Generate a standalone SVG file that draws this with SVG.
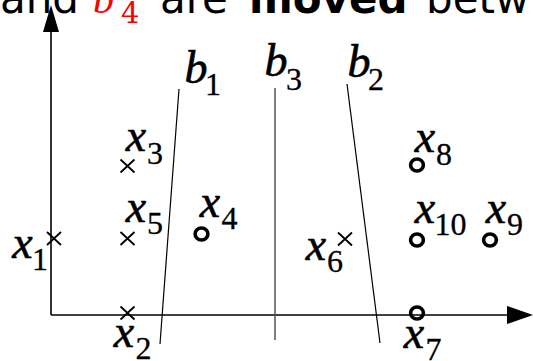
<svg xmlns="http://www.w3.org/2000/svg" width="533" height="361" viewBox="0 0 533 361">
<style>
  .title { font-family: "DejaVu Sans", sans-serif; font-size: 42px; fill: #000; }
  .bold { font-weight: bold; }
  .mi { font-family: "Liberation Serif", "Times New Roman", serif; font-style: italic; font-size: 46px; fill: #000; stroke: #000; stroke-width: 0.6; text-anchor: middle; }
  .sub { font-family: "Liberation Serif", "Times New Roman", serif; font-size: 32px; fill: #000; stroke: #000; stroke-width: 0.3; text-anchor: middle; }
  .axis { stroke: #000; stroke-width: 1.6; fill: none; }
  .bound { stroke: #000; stroke-width: 1.2; fill: none; }
  .mark { stroke: #000; stroke-width: 1.8; fill: none; }
  .ring { stroke: #000; stroke-width: 3.6; fill: none; }
</style>
<defs>
  <path id="cross" class="mark" d="M-7,-6.5 L7,6.5 M-7,6.5 L7,-6.5"/>
  <ellipse id="circ" class="ring" cx="0" cy="0" rx="6.4" ry="6"/>
</defs>
<rect width="533" height="361" fill="#fff"/>

<g id="title">
  <text class="title" x="79" y="13" text-anchor="end">and</text>
  <text x="93" y="13" font-family="Liberation Serif, serif" font-style="italic" font-size="42" fill="#ff0000">b</text>
  <text x="121" y="23" font-family="DejaVu Serif, serif" font-size="29" fill="#ff0000">4</text>
  <text class="title" x="160" y="13">are</text>
  <text class="title bold" x="249" y="13">moved</text>
  <text class="title" x="426" y="13">betw</text>
</g>

<g id="connectors">
  <g id="y-axis">
    <line class="axis" x1="51" y1="30" x2="51" y2="315"/>
    <polygon points="51,5 43,32 59,32" fill="#000"/>
  </g>
  <g id="x-axis">
    <line class="axis" x1="51" y1="315" x2="509" y2="315"/>
    <polygon points="533,315 507,306 507,324" fill="#000"/>
  </g>
  <line id="b1-line" class="bound" x1="179" y1="89" x2="160" y2="344"/>
  <line id="b3-line" x1="275" y1="88" x2="275" y2="340" stroke="#555" stroke-width="1.5"/>
  <line id="b2-line" class="bound" x1="347" y1="84" x2="380" y2="343"/>
</g>

<g id="b1"><text class="mi" x="196" y="83">b</text><text class="sub" x="213" y="95">1</text></g>
<g id="b3"><text class="mi" x="276" y="76">b</text><text class="sub" x="294" y="90">3</text></g>
<g id="b2"><text class="mi" x="359" y="77">b</text><text class="sub" x="376" y="90">2</text></g>

<g id="x1"><use href="#cross" x="54" y="238.5"/><text class="mi" x="22.5" y="258">x</text><text class="sub" x="40" y="270">1</text></g>
<g id="x2"><use href="#cross" x="127.5" y="313"/><text class="mi" x="124" y="347">x</text><text class="sub" x="143.5" y="359">2</text></g>
<g id="x3"><use href="#cross" x="127.5" y="166"/><text class="mi" x="136" y="151">x</text><text class="sub" x="155" y="164">3</text></g>
<g id="x4"><use href="#circ" x="201.5" y="234"/><text class="mi" x="210" y="217">x</text><text class="sub" x="229.5" y="229">4</text></g>
<g id="x5"><use href="#cross" x="127.5" y="238.5"/><text class="mi" x="136" y="222">x</text><text class="sub" x="155" y="234">5</text></g>
<g id="x6"><use href="#cross" x="345" y="239"/><text class="mi" x="316" y="260">x</text><text class="sub" x="335" y="272">6</text></g>
<g id="x7"><use href="#circ" x="417" y="313"/><text class="mi" x="414" y="348">x</text><text class="sub" x="433.5" y="360">7</text></g>
<g id="x8"><use href="#circ" x="417" y="165"/><text class="mi" x="425" y="152">x</text><text class="sub" x="444" y="165">8</text></g>
<g id="x9"><use href="#circ" x="490" y="240"/><text class="mi" x="496" y="223">x</text><text class="sub" x="515" y="235">9</text></g>
<g id="x10"><use href="#circ" x="417" y="240"/><text class="mi" x="425" y="223">x</text><text class="sub" x="450.5" y="235">10</text></g>
</svg>
